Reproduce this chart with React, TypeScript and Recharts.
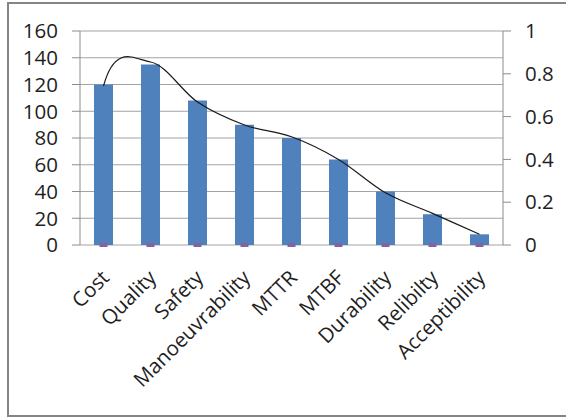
import {
  Bar,
  CartesianGrid,
  ComposedChart,
  Line,
  XAxis,
  YAxis,
} from "recharts";

const criteria = [
  "Cost",
  "Quality",
  "Safety",
  "Manoeuvrability",
  "MTTR",
  "MTBF",
  "Durability",
  "Relibilty",
  "Acceptibility",
];
const scores = [120, 135, 108, 90, 80, 64, 40, 23, 8];
const weights = [0.743, 0.855, 0.668, 0.561, 0.506, 0.4, 0.244, 0.148, 0.05];
const baseline = [0, 0, 0, 0, 0, 0, 0, 0, 0];

const leftTicks = [0, 20, 40, 60, 80, 100, 120, 140, 160];
const rightTicks = [0, 0.2, 0.4, 0.6, 0.8, 1];
const edgeTicks = [0, 1, 2, 3, 4, 5, 6, 7, 8, 9];

const data = criteria.map((name, i) => ({
  name,
  score: scores[i],
  weight: weights[i],
  base: baseline[i],
}));

const FONT = "'Open Sans', sans-serif";
const FONT_SIZE = 20.5;
const TEXT = "#1f1f1f";
const GRID = "#a3a3a3";
const AXIS = "#8c8c8c";

// Excel-style smoothed line: Catmull-Rom between points, with a stiffer
// start tangent on the first segment.
function excelSmooth(context: any) {
  let pts: [number, number][] = [];
  return {
    areaStart() {},
    areaEnd() {},
    lineStart() {
      pts = [];
    },
    point(x: number, y: number) {
      pts.push([+x, +y]);
    },
    lineEnd() {
      const n = pts.length;
      if (!n) return;
      context.moveTo(pts[0][0], pts[0][1]);
      const tan = (i: number) => {
        const a = pts[Math.max(i - 1, 0)];
        const b = pts[Math.min(i + 1, n - 1)];
        return [(b[0] - a[0]) / 6, (b[1] - a[1]) / 6];
      };
      for (let i = 0; i < n - 1; i++) {
        const p0 = pts[i];
        const p1 = pts[i + 1];
        let c1x: number;
        let c1y: number;
        if (i === 0) {
          c1x = p0[0] + (p1[0] - p0[0]) * 0.25;
          c1y = p0[1] + (p1[1] - p0[1]) * 1.8;
        } else {
          const t0 = tan(i);
          c1x = p0[0] + t0[0];
          c1y = p0[1] + t0[1];
        }
        const t1 = tan(i + 1);
        context.bezierCurveTo(c1x, c1y, p1[0] - t1[0], p1[1] - t1[1], p1[0], p1[1]);
      }
    },
  };
}

function CategoryTick({ x, y, payload }: any) {
  const px = x + 7;
  const py = y + 26;
  return (
    <text
      x={px}
      y={py}
      transform={`rotate(-45 ${px} ${py})`}
      textAnchor="end"
      fill={TEXT}
      fontSize={FONT_SIZE}
      fontFamily={FONT}
    >
      {payload.value}
    </text>
  );
}

function BaseMark({ cx, cy }: any) {
  if (cx == null || cy == null) return null;
  return <rect x={cx - 4} y={cy - 2} width={8} height={4} fill="#8064A2" />;
}

export default function App() {
  return (
    <div
      style={{
        position: "absolute",
        left: 0,
        top: 0,
        width: 566,
        height: 417,
        background: "#fff",
        overflow: "hidden",
      }}
    >
      <ComposedChart
        width={566}
        height={417}
        data={data}
        margin={{ top: 31, right: 0, bottom: 0, left: 0 }}
        style={{ fontFamily: FONT }}
      >
        <CartesianGrid
          yAxisId="left"
          xAxisId="cat"
          vertical={false}
          stroke={GRID}
          strokeWidth={1}
        />
        <XAxis
          xAxisId="edge"
          type="number"
          domain={[0, 9]}
          ticks={edgeTicks}
          allowDataOverflow
          height={1}
          tick={false}
          tickSize={8}
          axisLine={{ stroke: AXIS }}
          tickLine={{ stroke: AXIS }}
        />
        <XAxis
          xAxisId="cat"
          dataKey="name"
          interval={0}
          height={171}
          axisLine={false}
          tickLine={false}
          tick={<CategoryTick />}
        />
        <YAxis
          yAxisId="left"
          width={80}
          domain={[0, 160]}
          ticks={leftTicks}
          interval={0}
          tickSize={8}
          tickMargin={14}
          axisLine={{ stroke: AXIS }}
          tickLine={{ stroke: AXIS }}
          tick={{ fill: TEXT, fontSize: FONT_SIZE, fontFamily: FONT }}
        />
        <YAxis
          yAxisId="right"
          orientation="right"
          width={63}
          domain={[0, 1]}
          ticks={rightTicks}
          interval={0}
          tickSize={8}
          tickMargin={14}
          axisLine={{ stroke: AXIS }}
          tickLine={{ stroke: AXIS }}
          tick={{ fill: TEXT, fontSize: FONT_SIZE, fontFamily: FONT }}
        />
        <Bar
          xAxisId="cat"
          yAxisId="left"
          dataKey="score"
          fill="#4F81BD"
          barSize={19}
          isAnimationActive={false}
        />
        <Line
          xAxisId="cat"
          yAxisId="left"
          dataKey="base"
          stroke="none"
          dot={<BaseMark />}
          activeDot={false}
          isAnimationActive={false}
        />
        <Line
          xAxisId="cat"
          yAxisId="right"
          dataKey="weight"
          type={excelSmooth as any}
          stroke="#1a1a1a"
          strokeWidth={1.2}
          dot={false}
          activeDot={false}
          isAnimationActive={false}
        />
      </ComposedChart>
      <div
        style={{
          position: "absolute",
          left: 7,
          top: 2,
          width: 600,
          height: 415,
          boxSizing: "border-box",
          border: "2px solid #858585",
          pointerEvents: "none",
        }}
      />
    </div>
  );
}
